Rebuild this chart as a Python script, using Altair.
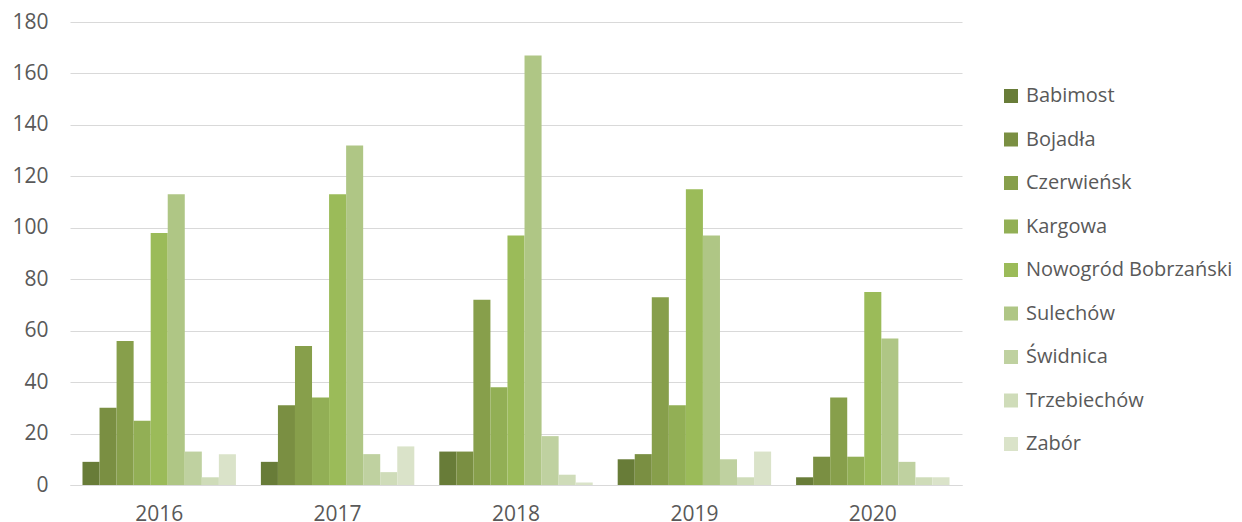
import altair as alt
import pandas as pd

years = ["2016", "2017", "2018", "2019", "2020"]
towns = ["Babimost", "Bojadła", "Czerwieńsk", "Kargowa", "Nowogród Bobrzański",
         "Sulechów", "Świdnica", "Trzebiechów", "Zabór"]
values = {
    "2016": [9, 30, 56, 25, 98, 113, 13, 3, 12],
    "2017": [9, 31, 54, 34, 113, 132, 12, 5, 15],
    "2018": [13, 13, 72, 38, 97, 167, 19, 4, 1],
    "2019": [10, 12, 73, 31, 115, 97, 10, 3, 13],
    "2020": [3, 11, 34, 11, 75, 57, 9, 3, 3],
}
colors = ["#687c38", "#7a8f42", "#879f4b", "#92af55", "#9bbb59",
          "#afc685", "#bfd1a0", "#cfdcb9", "#dae3c9"]

rows = []
for y in years:
    for t, v in zip(towns, values[y]):
        rows.append({"Rok": y, "Gmina": t, "Wartość": v})
df = pd.DataFrame(rows)

FONT = "Open Sans"
GREY = "#595959"

chart = alt.Chart(df).mark_bar().encode(
    x=alt.X("Rok:N", sort=years,
            scale=alt.Scale(paddingInner=0.14, paddingOuter=0.07),
            axis=alt.Axis(title=None, labelAngle=0, ticks=False, domainColor="#d9d9d9",
                          labelFont=FONT, labelFontSize=21, labelColor=GREY, labelPadding=18)),
    xOffset=alt.XOffset("Gmina:N", sort=towns, scale=alt.Scale(paddingInner=0, paddingOuter=0)),
    y=alt.Y("Wartość:Q", scale=alt.Scale(domain=[0, 180]),
            axis=alt.Axis(title=None, values=list(range(0, 181, 20)), ticks=False, domain=False,
                          gridColor="#d9d9d9", labelFont=FONT, labelFontSize=21,
                          labelColor=GREY, labelPadding=22)),
    color=alt.Color("Gmina:N", sort=towns, scale=alt.Scale(domain=towns, range=colors),
                    legend=alt.Legend(title=None, orient="none", legendX=931, legendY=64,
                                      symbolType="square", symbolSize=196, symbolStrokeWidth=0,
                                      labelFont=FONT, labelFontSize=20, labelColor=GREY,
                                      labelLimit=400, rowPadding=23.5, labelOffset=5)),
).properties(
    width=892, height=463,
    autosize=alt.AutoSizeParams(type="none"),
    padding={"left": 62, "top": 14, "right": 272, "bottom": 50},
).configure_view(stroke=None)

chart.save("out.html", embed_options={"renderer": "svg", "actions": False})
